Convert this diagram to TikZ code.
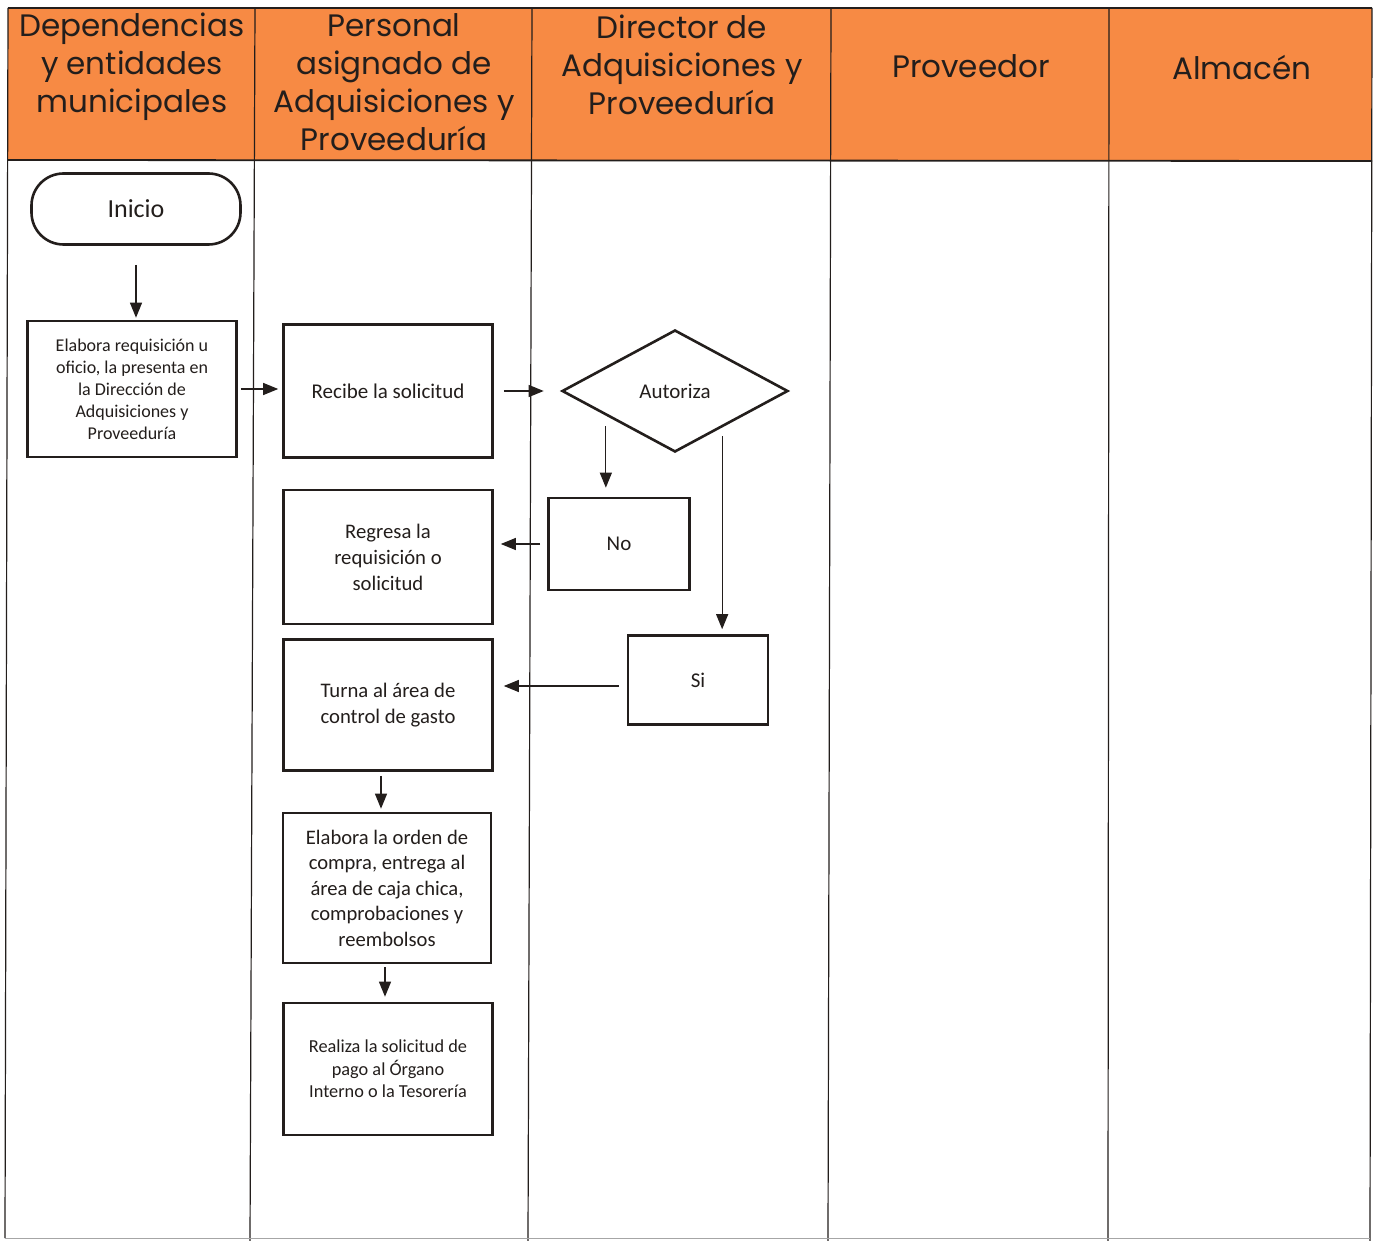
\documentclass[tikz,border=0pt]{standalone}
\usepackage{fontspec}
\setmainfont{Carlito}
\newfontfamily\headfont{Poppins}
\usetikzlibrary{arrows.meta,shapes.geometric,calc}

\definecolor{laneorange}{RGB}{247,138,68}
\definecolor{inkdark}{RGB}{35,30,28}

\tikzset{
  lane/.style={draw=inkdark, line width=1.2pt},
  headtxt/.style={font=\headfont\fontsize{31}{38}\selectfont, text=inkdark, align=center, inner sep=0pt, anchor=north},
  procbox/.style={draw=inkdark, line width=2.6pt, inner sep=0pt, align=center, text=inkdark},
  flowarrow/.style={draw=inkdark, line width=1.1pt, -{Triangle[length=15pt,width=12pt]}},
}

\begin{document}
\begin{tikzpicture}[x=1pt,y=-1pt]
\useasboundingbox (0,0) rectangle (1377,1241);
\fill[white] (0,0) rectangle (1377,1241);

% header band
\fill[laneorange] (8,9) rectangle (1372,160);

% swimlane grid
\draw[lane] (8,8) -- (1372,8);
\draw[lane, line width=1.8pt] (8,160) -- (1372,161);
\draw[lane] (8,8) -- (5,1238);
\draw[lane] (255,8) -- (250,1241);
\draw[lane] (532,8) -- (528,1241);
\draw[lane] (831,8) -- (828,1241);
\draw[lane] (1109,8) -- (1108,1241);
\draw[lane] (1372,8) -- (1370,1241);
\draw[draw=black!35, line width=0.8pt] (5,1238) -- (1370,1238);

% lane titles
\node[headtxt] (h1) at (132,13) {Dependencias\\y entidades\\municipales};
\node[headtxt] (h2) at (394,13) {Personal\\asignado de\\Adquisiciones y\\Proveeduría};
\node[headtxt] (h3) at (682,15) {Director de\\Adquisiciones y\\Proveeduría};
\node[headtxt] (h4) at (971,54) {Proveedor};
\node[headtxt] (h5) at (1242,55) {Almacén};

% flow nodes
\node[procbox, rounded corners=32pt, minimum width=209pt, minimum height=71pt,
      font=\fontsize{26}{30}\selectfont] (inicio) at (136,209) {Inicio};
\node[procbox, minimum width=209pt, minimum height=136pt,
      font=\fontsize{18}{22}\selectfont] (elabora) at (132,389)
      {Elabora requisición u\\oficio, la presenta en\\la Dirección de\\Adquisiciones y\\Proveeduría};
\node[procbox, minimum width=209pt, minimum height=133pt,
      font=\fontsize{21}{26}\selectfont] (recibe) at (388,391) {Recibe la solicitud};
\node[procbox, diamond, shape aspect=1.85, minimum width=226pt, minimum height=122pt,
      font=\fontsize{21}{24}\selectfont] (autoriza) at (675,391) {Autoriza};
\node[procbox, minimum width=141pt, minimum height=92pt,
      font=\fontsize{21}{24}\selectfont] (no) at (619,544) {No};
\node[procbox, minimum width=140pt, minimum height=89pt,
      font=\fontsize{21}{24}\selectfont] (si) at (698,680) {Si};
\node[procbox, minimum width=209pt, minimum height=134pt,
      font=\fontsize{20.7}{26}\selectfont] (regresa) at (388,557)
      {Regresa la\\requisición o\\solicitud};
\node[procbox, minimum width=209pt, minimum height=131pt,
      font=\fontsize{20.7}{26}\selectfont] (turna) at (388,705)
      {Turna al área de\\control de gasto};
\node[procbox, minimum width=208pt, minimum height=150pt,
      font=\fontsize{20.6}{25.5}\selectfont] (orden) at (387,888)
      {Elabora la orden de\\compra, entrega al\\área de caja chica,\\comprobaciones y\\reembolsos};
\node[procbox, minimum width=209pt, minimum height=132pt,
      font=\fontsize{18.3}{22.5}\selectfont] (realiza) at (388,1069)
      {Realiza la solicitud de\\pago al Órgano\\Interno o la Tesorería};

% anchor points for the offset connectors
\coordinate (noTop) at ($(autoriza.south west)+(-12,4)$);
\coordinate (siTop) at ($(autoriza.south east)+(-10,14)$);
\coordinate (siOut) at ($(si.west)+(-8,6)$);
\coordinate (turnaOut) at ($(turna.south)+(-7,4)$);
\coordinate (ordenOut) at ($(orden.south)+(-2,3)$);

% connectors
\draw[flowarrow, shorten <=19pt, shorten >=2pt] (inicio.south) -- (inicio.south |- elabora.north);
\draw[flowarrow, shorten <=3pt, shorten >=4pt] (elabora.east) -- (elabora.east -| recibe.west);
\draw[flowarrow, shorten <=10pt, shorten >=17pt] (recibe.east) -- (autoriza.west);
\draw[flowarrow, shorten >=9pt] (noTop) -- (noTop |- no.north);
\draw[flowarrow, shorten >=5pt] (siTop) -- (siTop |- si.north);
\draw[flowarrow, shorten <=7pt, shorten >=7pt] (no.west) -- (no.west -| regresa.east);
\draw[flowarrow, shorten >=10pt] (siOut) -- (siOut -| turna.east);
\draw[flowarrow, shorten >=3pt] (turnaOut) -- (turnaOut |- orden.north);
\draw[flowarrow, shorten >=5pt] (ordenOut) -- (ordenOut |- realiza.north);
\end{tikzpicture}
\end{document}
